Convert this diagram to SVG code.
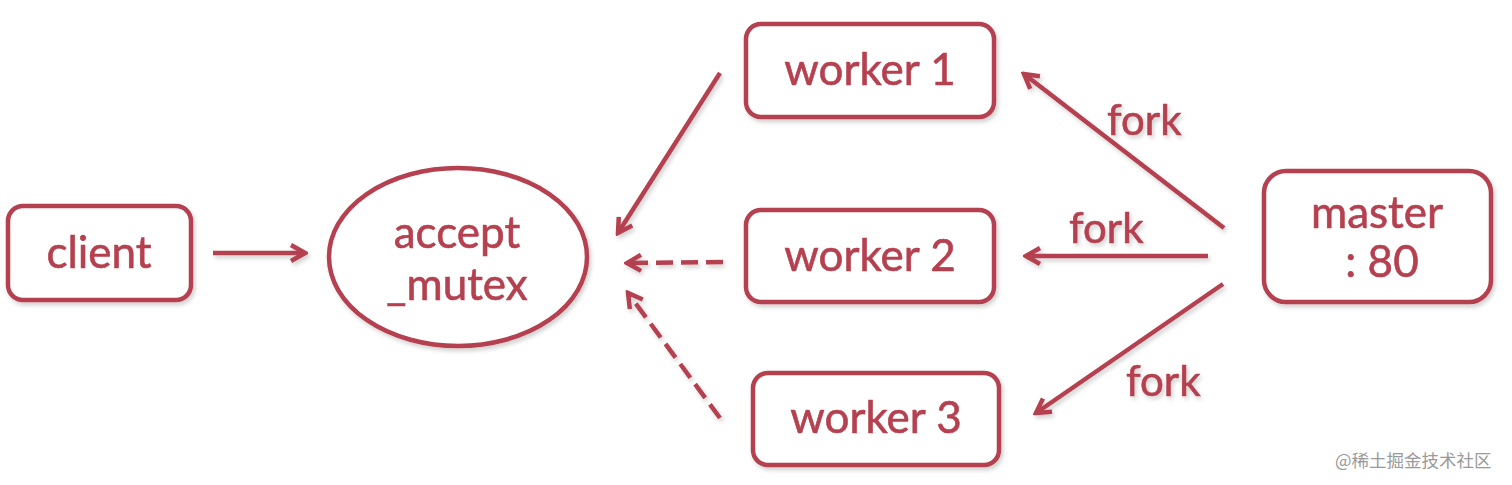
<svg xmlns="http://www.w3.org/2000/svg" width="1512" height="485" viewBox="0 0 1512 485">
<defs>
<style>
.box{fill:#fff;stroke:#b5404f;stroke-width:4.5}
.t{font-family:Lato,"Open Sans",sans-serif;font-size:44px;fill:#b5404f;stroke:#b5404f;stroke-width:0.6;text-anchor:middle}
.f{font-family:Lato,"Open Sans",sans-serif;font-size:42px;fill:#b5404f;stroke:#b5404f;stroke-width:0.6}
.c{stroke:#b5404f;stroke-width:4.5;fill:none;stroke-linecap:butt}
.d{stroke-dasharray:17 8}
.wm{font-family:"Noto Sans CJK SC",sans-serif;font-size:17.5px;fill:#9a9a9a}
</style>
<marker id="ah" viewBox="0 0 20 20" refX="17" refY="10" markerWidth="20" markerHeight="20" markerUnits="userSpaceOnUse" orient="auto">
<path d="M3,2 L17,10 L3,18" fill="none" stroke="#b5404f" stroke-width="4.5" stroke-linejoin="miter"/>
</marker>
<filter id="sh" x="-10%" y="-10%" width="120%" height="130%">
<feDropShadow dx="2" dy="3" stdDeviation="2" flood-color="#000" flood-opacity="0.18"/>
</filter>
</defs>
<rect width="1512" height="485" fill="#fff"/>
<g id="connectors" filter="url(#sh)">
<line class="c" x1="213" y1="253" x2="305" y2="253" marker-end="url(#ah)"/>
<line class="c" x1="720" y1="73" x2="618" y2="233" marker-end="url(#ah)"/>
<line class="c d" x1="723" y1="262" x2="627" y2="263" marker-end="url(#ah)"/>
<line class="c d" x1="720" y1="418" x2="628" y2="293" marker-end="url(#ah)"/>
<line class="c" x1="1224" y1="228" x2="1024" y2="74" marker-end="url(#ah)"/>
<line class="c" x1="1208" y1="256" x2="1026" y2="256" marker-end="url(#ah)"/>
<line class="c" x1="1223" y1="284" x2="1036" y2="413" marker-end="url(#ah)"/>
<text class="f" x="1107" y="135">fork</text>
<text class="f" x="1069" y="243">fork</text>
<text class="f" x="1126" y="396">fork</text>
</g>
<g id="client" filter="url(#sh)">
<rect class="box" x="8" y="206" width="183" height="94" rx="15"/>
<text class="t" x="99" y="268">client</text>
</g>
<g id="accept_mutex" filter="url(#sh)">
<ellipse class="box" cx="458" cy="257" rx="129" ry="89"/>
<text class="t" x="457" y="248">accept</text>
<text class="t" x="457" y="300">_mutex</text>
</g>
<g id="worker1" filter="url(#sh)">
<rect class="box" x="746" y="24" width="248" height="93" rx="15"/>
<text class="t" x="870" y="85">worker 1</text>
</g>
<g id="worker2" filter="url(#sh)">
<rect class="box" x="746" y="210" width="248" height="92" rx="15"/>
<text class="t" x="870" y="271">worker 2</text>
</g>
<g id="worker3" filter="url(#sh)">
<rect class="box" x="753" y="373" width="246" height="92" rx="15"/>
<text class="t" x="876" y="433">worker 3</text>
</g>
<g id="master" filter="url(#sh)">
<rect class="box" x="1264" y="171" width="227" height="131" rx="22"/>
<text class="t" x="1377" y="228">master</text>
<text class="t" x="1382" y="277">: 80</text>
</g>
<text class="wm" x="1335" y="467">@稀土掘金技术社区</text>
</svg>
